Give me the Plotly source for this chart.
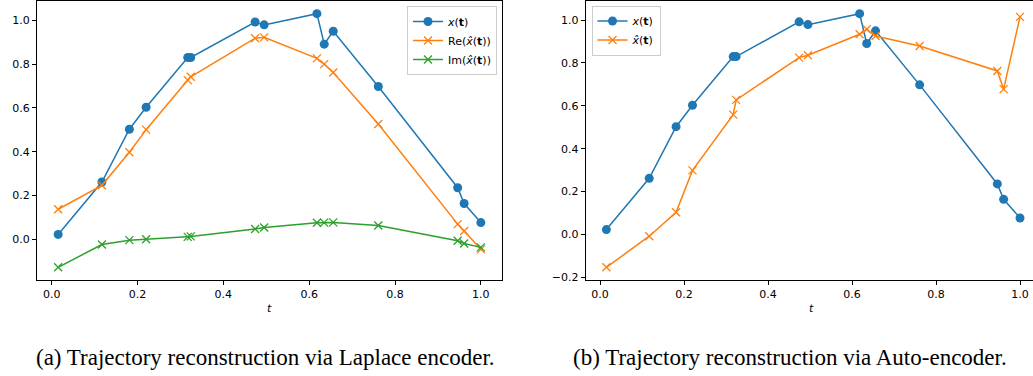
import plotly.graph_objects as go

# ---- data ----
t = [0.015, 0.117, 0.181, 0.220, 0.317, 0.324, 0.474, 0.495, 0.618, 0.635, 0.656, 0.761, 0.946, 0.961, 1.000]
x_true = [0.023, 0.262, 0.503, 0.603, 0.830, 0.830, 0.992, 0.979, 1.030, 0.891, 0.950, 0.698, 0.236, 0.164, 0.077]
re_laplace = [0.138, 0.247, 0.398, 0.501, 0.727, 0.742, 0.918, 0.922, 0.826, 0.800, 0.762, 0.527, 0.070, 0.039, -0.045]
im_laplace = [-0.127, -0.023, -0.003, 0.001, 0.012, 0.014, 0.048, 0.055, 0.076, 0.077, 0.078, 0.064, -0.006, -0.018, -0.036]
x_auto = [-0.153, -0.008, 0.104, 0.299, 0.559, 0.628, 0.825, 0.836, 0.934, 0.957, 0.926, 0.879, 0.763, 0.678, 1.015]

x_ticks = [0.0, 0.2, 0.4, 0.6, 0.8, 1.0]
y_ticks_a = [0.0, 0.2, 0.4, 0.6, 0.8, 1.0]
y_ticks_b = [-0.2, 0.0, 0.2, 0.4, 0.6, 0.8, 1.0]
captions = ["(a) Trajectory reconstruction via Laplace encoder.",
            "(b) Trajectory reconstruction via Auto-encoder."]

BLUE, ORANGE, GREEN = "#1f77b4", "#ff7f0e", "#2ca02c"
W, H = 1033, 376
ML, MR, MT, MB = 37, 0, 1, 96
PW = W - ML - MR
PH = H - MT - MB


def px_x(p):
    return (p - ML) / PW


def px_y(p):
    return 1 - (p - MT) / PH


def rng(*series, m=0.05):
    lo = min(min(s) for s in series)
    hi = max(max(s) for s in series)
    d = hi - lo
    return [lo - m * d, hi + m * d]


fig = go.Figure()

circ = dict(symbol="circle", size=9, color=BLUE)


def xmark(c):
    return dict(symbol="x-thin", size=8, color=c, line=dict(width=1.3, color=c))


# left panel
fig.add_trace(go.Scatter(x=t, y=x_true, mode="lines+markers", name="<i>x</i>(<b>t</b>)",
                         line=dict(color=BLUE, width=1.5), marker=circ,
                         xaxis="x", yaxis="y", legend="legend"))
fig.add_trace(go.Scatter(x=t, y=re_laplace, mode="lines+markers", name="Re(<i>x\u0302</i>(<b>t</b>))",
                         line=dict(color=ORANGE, width=1.5), marker=xmark(ORANGE),
                         xaxis="x", yaxis="y", legend="legend"))
fig.add_trace(go.Scatter(x=t, y=im_laplace, mode="lines+markers", name="Im(<i>x\u0302</i>(<b>t</b>))",
                         line=dict(color=GREEN, width=1.5), marker=xmark(GREEN),
                         xaxis="x", yaxis="y", legend="legend"))

# right panel
fig.add_trace(go.Scatter(x=t, y=x_true, mode="lines+markers", name="<i>x</i>(<b>t</b>)",
                         line=dict(color=BLUE, width=1.5), marker=circ,
                         xaxis="x2", yaxis="y2", legend="legend2"))
fig.add_trace(go.Scatter(x=t, y=x_auto, mode="lines+markers", name="<i>x\u0302</i>(<b>t</b>)",
                         line=dict(color=ORANGE, width=1.5), marker=xmark(ORANGE),
                         xaxis="x2", yaxis="y2", legend="legend2"))

tickfont = dict(family="DejaVu Sans", size=11, color="black")
common = dict(showgrid=False, zeroline=False, showline=True, linecolor="black", linewidth=1,
              ticks="outside", ticklen=4, tickwidth=1, tickcolor="black", tickfont=tickfont)

xr = rng(t)
fig.update_layout(
    width=W, height=H,
    margin=dict(l=ML, r=MR, t=MT, b=MB),
    paper_bgcolor="white", plot_bgcolor="white",
    xaxis=dict(domain=[0, px_x(502)], range=xr, tickvals=x_ticks, tickformat=".1f",
               mirror=True, anchor="y", **common),
    yaxis=dict(domain=[0, 1], range=rng(x_true, re_laplace, im_laplace), tickvals=y_ticks_a,
               tickformat=".1f", mirror=True, anchor="x", **common),
    xaxis2=dict(domain=[px_x(585.7), 1], range=[xr[0], (W - 600) / 420.0], tickvals=x_ticks,
                tickformat=".1f", mirror=True, anchor="y2", **common),
    yaxis2=dict(domain=[0, 1], range=rng(x_true, x_auto), tickvals=y_ticks_b,
                tickformat=".1f", mirror=False, anchor="x2", **common),
    legend=dict(x=px_x(497), y=px_y(6), xanchor="right", yanchor="top",
                bgcolor="rgba(255,255,255,0.8)", bordercolor="#cccccc", borderwidth=1,
                font=dict(family="DejaVu Sans", size=11, color="black"), tracegroupgap=0),
    legend2=dict(x=px_x(591.5), y=px_y(5.5), xanchor="left", yanchor="top",
                 bgcolor="rgba(255,255,255,0.8)", bordercolor="#cccccc", borderwidth=1,
                 font=dict(family="DejaVu Sans", size=11, color="black"), tracegroupgap=0),
    showlegend=True,
)

ann_font = dict(family="DejaVu Sans", size=11, color="black")
cap_font = dict(family="Liberation Serif", size=23, color="black")
fig.add_annotation(text="<i>t</i>", x=px_x(269.5), y=px_y(308), xref="paper", yref="paper",
                   showarrow=False, font=ann_font, xanchor="center", yanchor="middle")
fig.add_annotation(text="<i>t</i>", x=px_x(811), y=px_y(308), xref="paper", yref="paper",
                   showarrow=False, font=ann_font, xanchor="center", yanchor="middle")
fig.add_annotation(text=captions[0], x=px_x(265), y=px_y(357), xref="paper", yref="paper",
                   showarrow=False, font=cap_font, xanchor="center", yanchor="middle")
fig.add_annotation(text=captions[1], x=px_x(790), y=px_y(357), xref="paper", yref="paper",
                   showarrow=False, font=cap_font, xanchor="center", yanchor="middle")

fig.write_html("out.html", config={"displayModeBar": False},
               post_script="document.body.style.margin='0';document.body.style.overflow='hidden';")
